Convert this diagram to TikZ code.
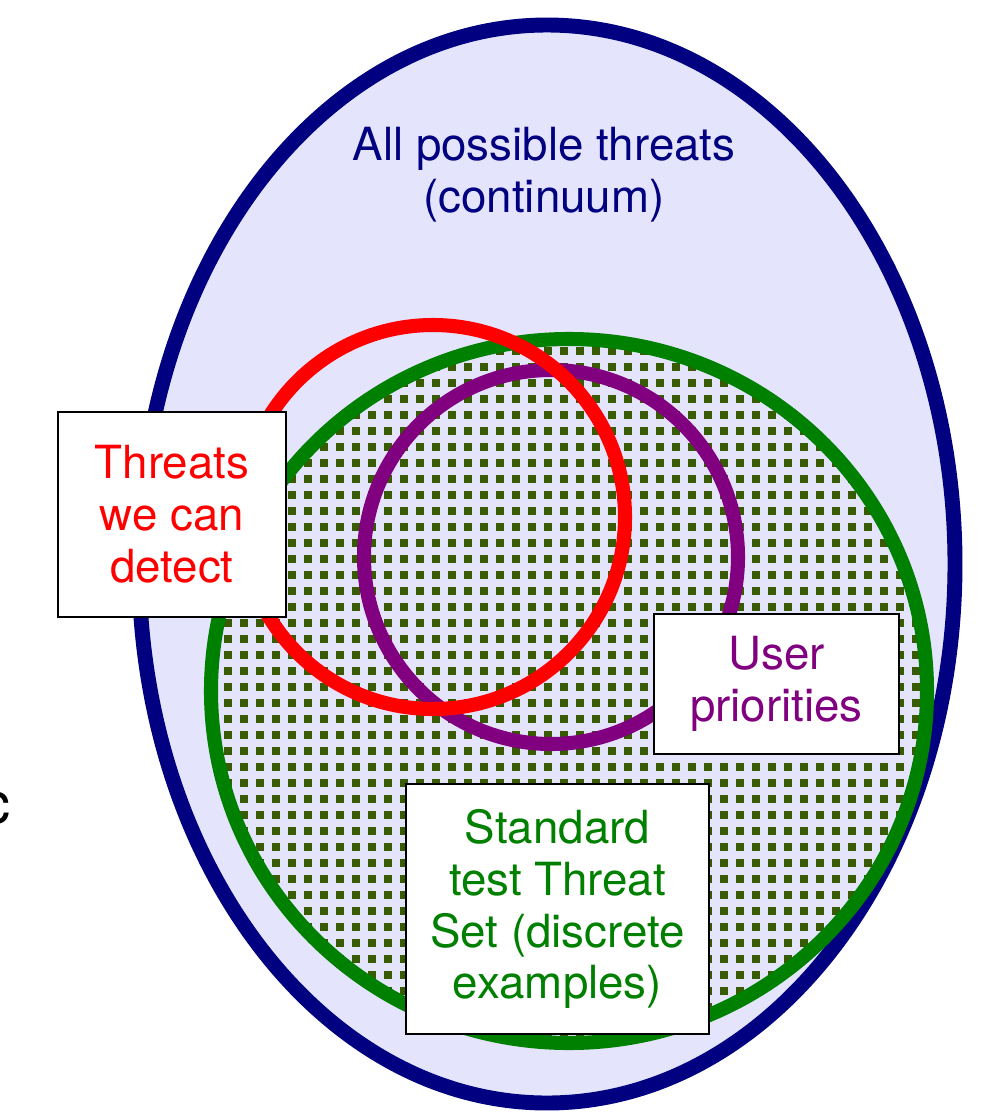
\documentclass[tikz,border=0pt]{standalone}
\usepackage{fontspec}
\setmainfont{TeX Gyre Heros}
\definecolor{lavbg}{RGB}{228,228,252}
\definecolor{navyline}{RGB}{0,0,128}
\definecolor{setgreen}{RGB}{0,128,0}
\definecolor{dotgreen}{RGB}{56,90,0}
\definecolor{prio}{RGB}{128,0,128}
\tikzset{
  label box/.style={draw=black, line width=1.1pt, fill=white, inner sep=0pt, align=center, font=\fontsize{26}{29.5}\selectfont},
  ring/.style={line width=8pt}
}
\begin{document}
\begin{tikzpicture}[x=0.02cm, y=-0.02cm]
    \useasboundingbox (0,0) rectangle (997,1112);
    \draw[navyline, fill=lavbg, line width=8.5pt] (547,564) ellipse [x radius=408, y radius=539];
    \begin{scope}
        \clip (569,691) ellipse [x radius=358, y radius=352];
        \foreach \x in {208,224,...,928}
            \foreach \y in {331,347,...,1043}
                \fill[dotgreen] (\x,\y) rectangle +(7.5,7.5);
    \end{scope}
    \draw[ring, setgreen] (569,691) ellipse [x radius=358, y radius=352];
    \draw[ring, prio] (551,557) circle [radius=187];
    \draw[ring, red] (433,517) circle [radius=192];
    \node[label box, text=red, minimum width=4.56cm, minimum height=4.1cm] (detect) at (172,514.5) {Threats\\we can\\detect};
    \node[label box, text=prio, minimum width=4.9cm, minimum height=2.8cm] (user) at (776.5,684) {User\\priorities};
    \node[label box, text=setgreen, minimum width=6.06cm, minimum height=5cm] (std) at (557.5,909) {Standard\\test Threat\\Set (discrete\\examples)};
    \node[text=navyline, align=center, font=\fontsize{26}{29.5}\selectfont] (all) at (544,175) {All possible threats\\(continuum)};
    \node[anchor=base east, inner sep=0pt, font=\fontsize{33}{33}\selectfont] (cut) at (11,823) {c};
\end{tikzpicture}
\end{document}
